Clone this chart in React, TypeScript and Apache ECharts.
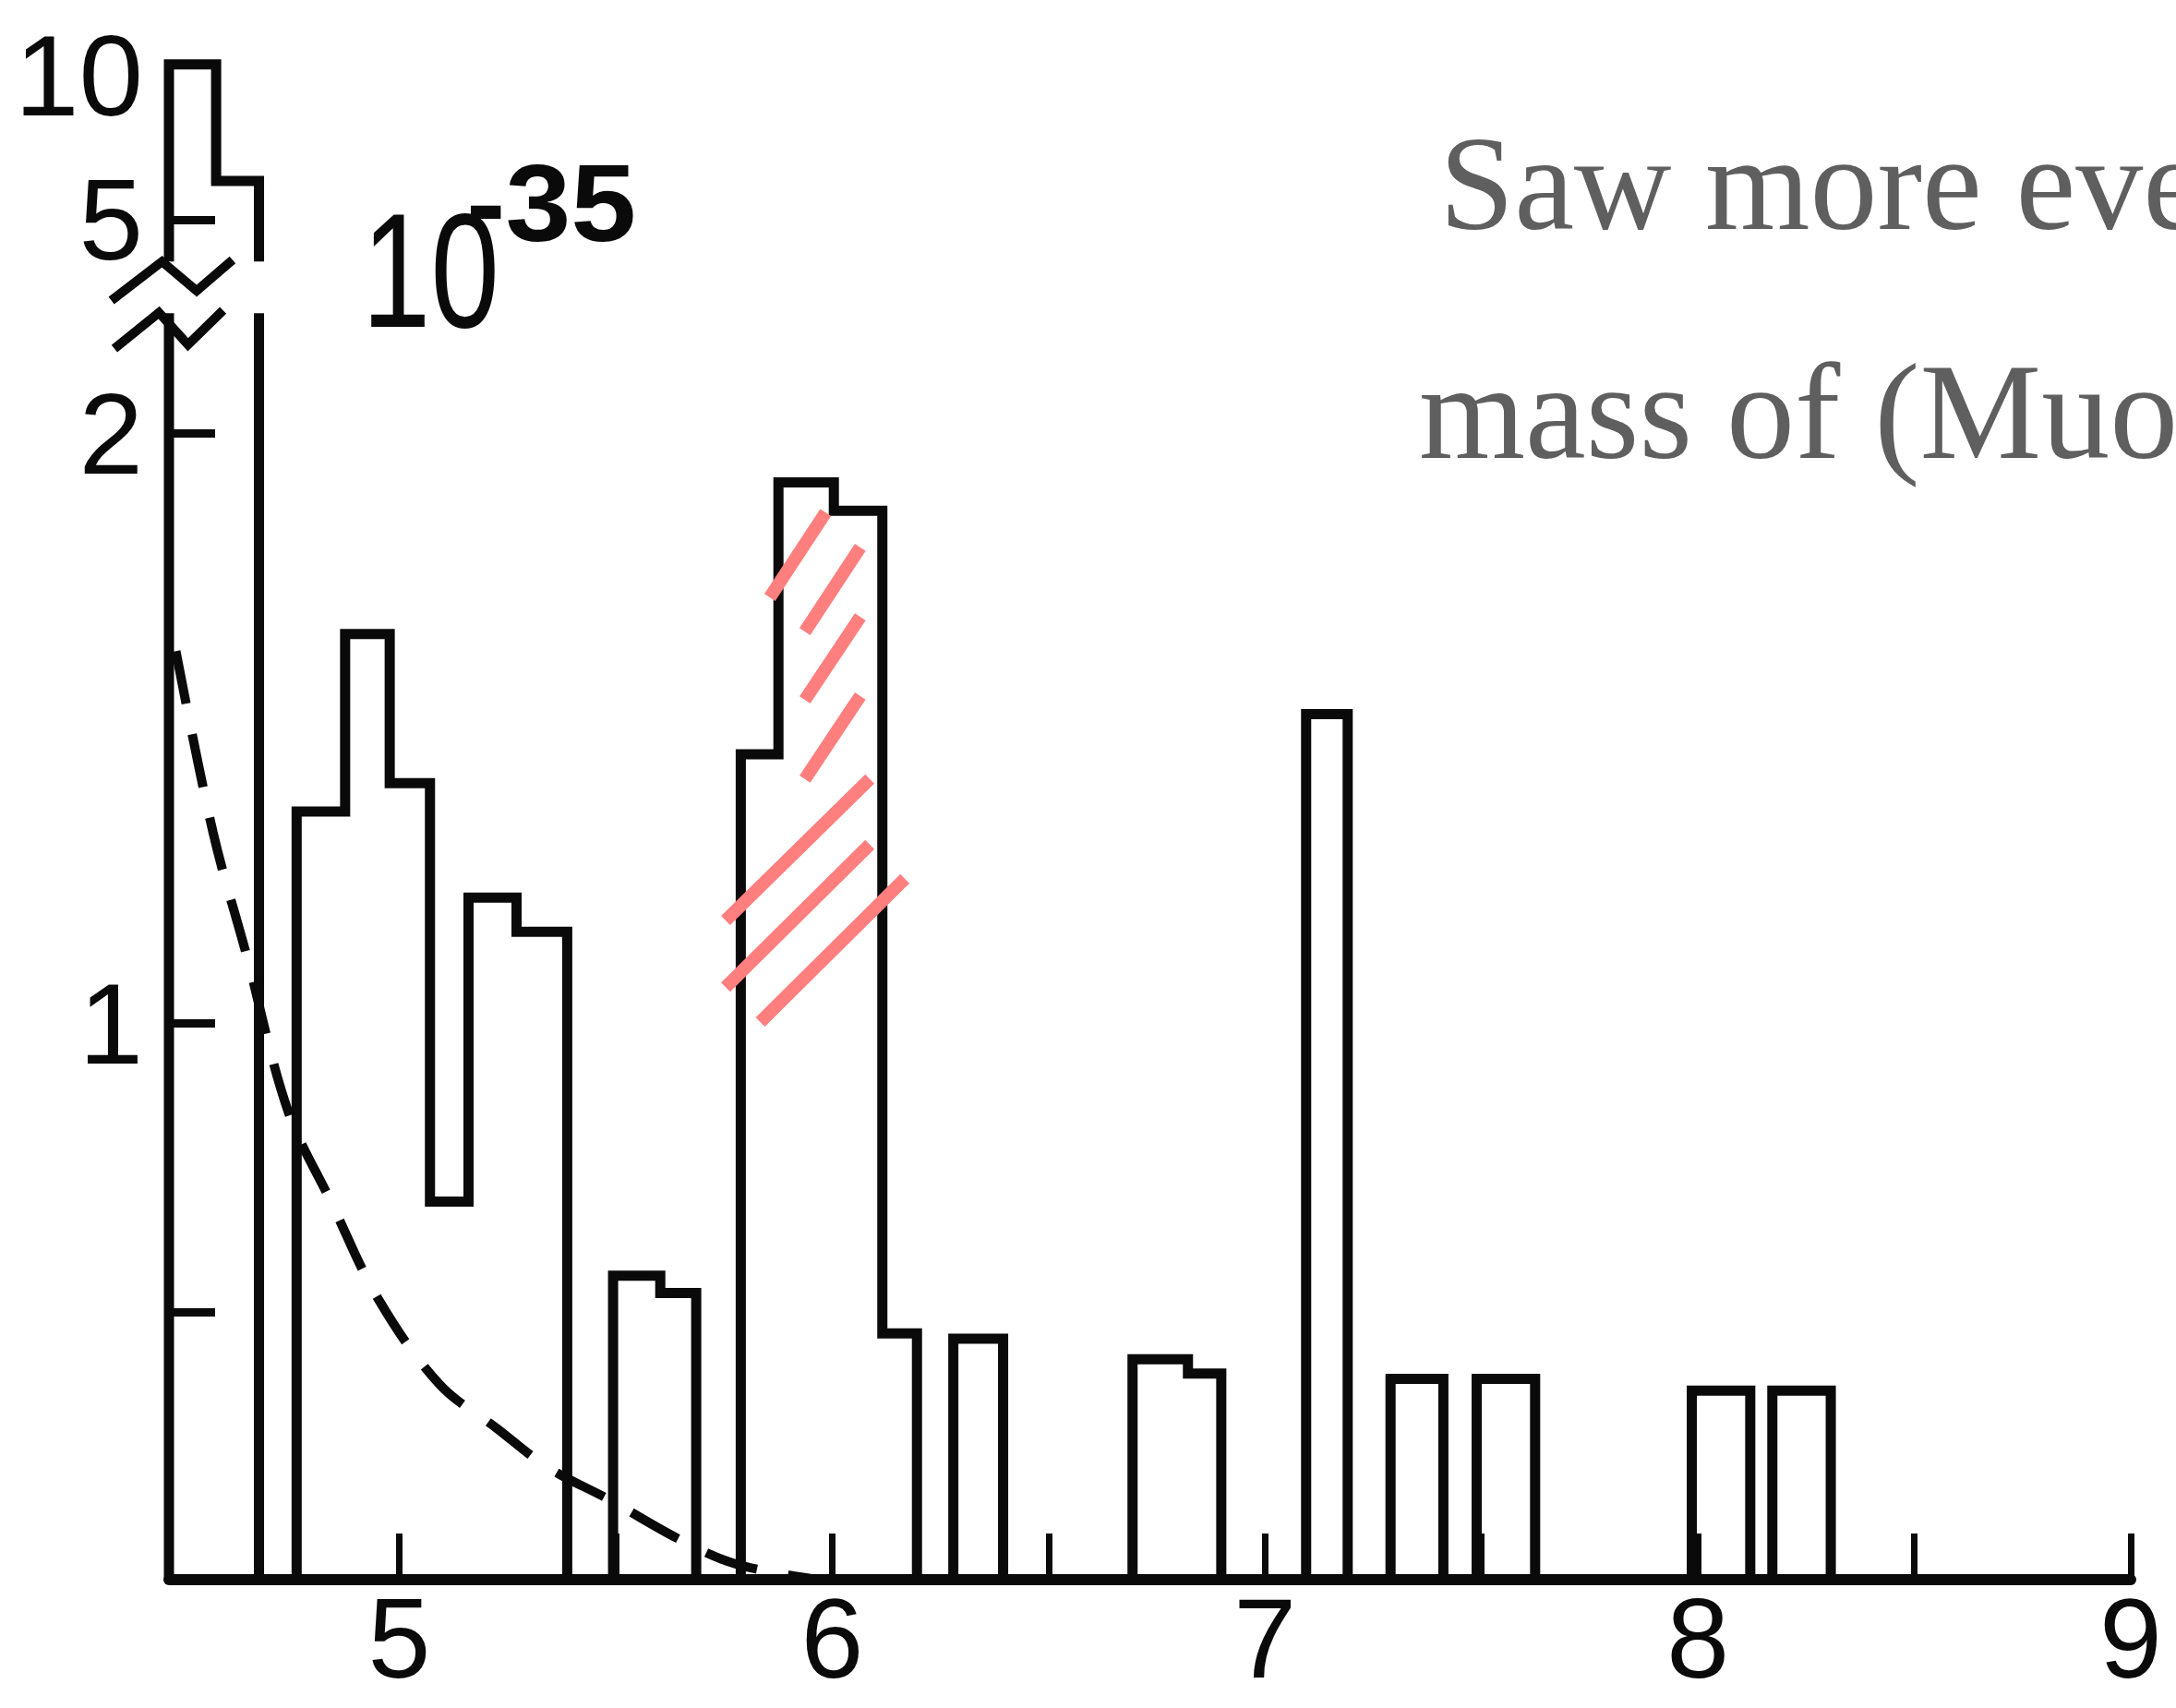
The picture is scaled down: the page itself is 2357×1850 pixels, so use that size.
import React, { useEffect, useRef } from "react";
import * as echarts from "echarts";

// ---- data ----
// histogram groups: bin edges (GeV) and heights (units of 10^-35)
const groupEdges: number[][] = [
  [4.468, 4.577, 4.676],
  [4.763, 4.875, 4.978, 5.071, 5.16, 5.271, 5.388],
  [5.494, 5.603, 5.686],
  [5.789, 5.876, 6.004, 6.116, 6.196],
  [6.28, 6.395],
  [6.694, 6.822, 6.899],
  [7.095, 7.191],
  [7.29, 7.412],
  [7.489, 7.624],
  [7.986, 8.121],
  [8.172, 8.307],
];
const groupValues: number[][] = [
  [10, 6.25],
  [1.359, 1.66, 1.407, 0.691, 1.213, 1.155],
  [0.563, 0.533],
  [1.456, 1.917, 1.869, 0.46],
  [0.45],
  [0.412, 0.385],
  [1.524],
  [0.375],
  [0.375],
  [0.353],
  [0.353],
];
// dashed background curve (mass, value)
const curveMass = [4.484, 4.57, 4.647, 4.743, 4.843, 4.952, 5.093, 5.225, 5.343, 5.484, 5.648, 5.779, 5.969];
const curveValue = [1.631, 1.323, 1.116, 0.848, 0.69, 0.522, 0.365, 0.283, 0.21, 0.15, 0.075, 0.029, 0.0];
// pink hatch strokes [m1, v1, m2, v2]
const hatchSegments: number[][] = [
  [5.856, 1.722, 5.985, 1.866],
  [5.937, 1.664, 6.065, 1.807],
  [5.937, 1.548, 6.065, 1.689],
  [5.937, 1.414, 6.065, 1.555],
  [5.754, 1.174, 6.087, 1.414],
  [5.754, 1.061, 6.087, 1.303],
  [5.834, 1.002, 6.168, 1.245],
];
// axis break zigzags (axis display units)
const zigzags: number[][][] = [
  [[4.335, 2.232], [4.452, 2.3], [4.532, 2.249], [4.615, 2.303]],
  [[4.342, 2.148], [4.445, 2.211], [4.512, 2.155], [4.593, 2.215]],
];
const xTickValues = [5, 5.5, 6, 6.5, 7, 7.5, 8, 8.5, 9];
const xLabelValues = [5, 6, 7, 8, 9];
const yTickReal = [0.5, 1, 2, 5];
const yLabelReal = [1, 2, 5, 10];

// broken y axis as printed: calibrated lower part, compressed segment for 5..10
const calibReal = [0, 0.5, 1, 2];
const calibDisp = [0, 0.467, 0.971, 2.0];
const D5 = 2.373;
const D10 = 2.644;
const BREAK_LO = 2.21;
const BREAK_HI = 2.3;
const toDisp = (v: number) => {
  if (v >= 2.5) return D5 + ((v - 5) * (D10 - D5)) / 5;
  for (let i = 1; i < calibReal.length; i++) {
    if (v <= calibReal[i] || i === calibReal.length - 1) {
      const r0 = calibReal[i - 1], r1 = calibReal[i];
      const d0 = calibDisp[i - 1], d1 = calibDisp[i];
      return d0 + ((v - r0) * (d1 - d0)) / (r1 - r0);
    }
  }
  return v;
};

const INK = "#0a0a0a";
const SANS = "Liberation Sans";

export default function App() {
  const ref = useRef<HTMLDivElement>(null);
  useEffect(() => {
    if (!ref.current) return;
    const chart = echarts.init(ref.current, null, { renderer: "svg" });
    const yTickDisp = yTickReal.map(toDisp);
    const yLabelDisp = yLabelReal.map(toDisp);

    const renderHist = (params: any, api: any) => {
      const gi = api.value(2);
      const edges = groupEdges[gi];
      const vals = groupValues[gi];
      const pts: number[][] = [[edges[0], 0]];
      for (let i = 0; i < vals.length; i++) {
        pts.push([edges[i], toDisp(vals[i])]);
        pts.push([edges[i + 1], toDisp(vals[i])]);
      }
      pts.push([edges[edges.length - 1], 0]);
      const lines: number[][][] = [];
      let cur: number[][] = [pts[0]];
      for (let k = 1; k < pts.length; k++) {
        const a = pts[k - 1];
        const b = pts[k];
        const lo = Math.min(a[1], b[1]);
        const hi = Math.max(a[1], b[1]);
        if (a[0] === b[0] && lo < BREAK_LO && hi > BREAK_HI) {
          if (a[1] < b[1]) {
            cur.push([a[0], BREAK_LO]);
            lines.push(cur);
            cur = [[a[0], BREAK_HI], b];
          } else {
            cur.push([a[0], BREAK_HI]);
            lines.push(cur);
            cur = [[a[0], BREAK_LO], b];
          }
        } else {
          cur.push(b);
        }
      }
      lines.push(cur);
      return {
        type: "group",
        children: lines.map((pl) => ({
          type: "polyline",
          shape: { points: pl.map((p) => api.coord(p)) },
          style: { stroke: INK, lineWidth: 11, fill: "none", lineJoin: "miter" },
        })),
      };
    };

    chart.setOption({
      animation: false,
      backgroundColor: "#ffffff",
      grid: { left: 183, right: 49, top: 35, bottom: 139, outerBoundsMode: "none" },
      xAxis: {
        type: "value",
        min: 4.468,
        max: 9,
        axisLine: { show: true, lineStyle: { color: INK, width: 12 } },
        axisTick: {
          show: true,
          inside: true,
          length: 50,
          customValues: xTickValues,
          lineStyle: { color: INK, width: 7 },
        },
        axisLabel: {
          show: true,
          customValues: xLabelValues,
          formatter: (v: number) => String(v),
          fontFamily: SANS,
          fontSize: 122,
          color: INK,
          margin: 3,
        },
        splitLine: { show: false },
      },
      yAxis: {
        type: "value",
        min: 0,
        max: 2.7,
        axisLine: { show: false },
        axisTick: {
          show: true,
          inside: true,
          length: 50,
          customValues: yTickDisp,
          lineStyle: { color: INK, width: 9 },
        },
        axisLabel: {
          show: true,
          customValues: yLabelDisp,
          formatter: (v: number) => {
            const idx = yLabelDisp.findIndex((d) => Math.abs(d - v) < 1e-6);
            if (idx < 0) return "";
            return idx === yLabelReal.length - 1 ? "{t|" + yLabelReal[idx] + "}" : String(yLabelReal[idx]);
          },
          fontFamily: SANS,
          fontSize: 125,
          color: INK,
          margin: 28,
          rich: {
            t: { fontFamily: SANS, fontSize: 125, color: INK, padding: [24, 0, 0, 0] },
          },
        },
        splitLine: { show: false },
      },
      series: [
        {
          type: "custom",
          coordinateSystem: "cartesian2d",
          renderItem: renderHist,
          encode: { x: 0, y: 1 },
          data: groupEdges.map((e, i) => [e[0], 0, i]),
          silent: true,
          z: 3,
        },
        {
          type: "line",
          data: curveMass.map((m, i) => [m, toDisp(curveValue[i])]),
          smooth: 0.35,
          showSymbol: false,
          symbol: "none",
          lineStyle: { color: INK, width: 10, type: [58, 34] },
          silent: true,
          z: 4,
        },
        {
          type: "lines",
          coordinateSystem: "cartesian2d",
          data: hatchSegments.map((h) => ({ coords: [[h[0], toDisp(h[1])], [h[2], toDisp(h[3])]] })),
          lineStyle: { color: "#ff7f7f", width: 14, opacity: 1, curveness: 0, cap: "butt" },
          silent: true,
          clip: false,
          z: 6,
        },
        {
          type: "lines",
          coordinateSystem: "cartesian2d",
          polyline: true,
          data: zigzags.map((z) => ({ coords: z })),
          lineStyle: { color: INK, width: 10, opacity: 1, curveness: 0 },
          silent: true,
          clip: false,
          z: 5,
        },
      ],
      graphic: [
        {
          type: "text",
          x: 392,
          y: 293,
          scaleX: 0.76,
          style: {
            text: "10",
            fontFamily: SANS,
            fontSize: 176,
            fill: INK,
            textAlign: "left",
            textVerticalAlign: "middle",
          },
        },
        {
          type: "text",
          x: 505,
          y: 220,
          scaleX: 1.08,
          style: {
            text: "-35",
            fontFamily: SANS,
            fontWeight: "bold",
            fontSize: 118,
            fill: INK,
            textAlign: "left",
            textVerticalAlign: "middle",
          },
        },
        {
          type: "text",
          x: 1559,
          y: 199,
          style: {
            text: "Saw more eve",
            fontFamily: "Liberation Serif",
            fontSize: 146,
            fill: "#5f5f5f",
            textAlign: "left",
            textVerticalAlign: "middle",
          },
        },
        {
          type: "text",
          x: 1537,
          y: 446,
          style: {
            text: "mass of (Muo",
            fontFamily: "Liberation Serif",
            fontSize: 148,
            fill: "#5f5f5f",
            textAlign: "left",
            textVerticalAlign: "middle",
          },
        },
      ],
    });
    return () => chart.dispose();
  }, []);
  return (
    <div
      ref={ref}
      style={{ position: "fixed", left: 0, top: 0, width: "2357px", height: "1850px", background: "#fff" }}
    />
  );
}
